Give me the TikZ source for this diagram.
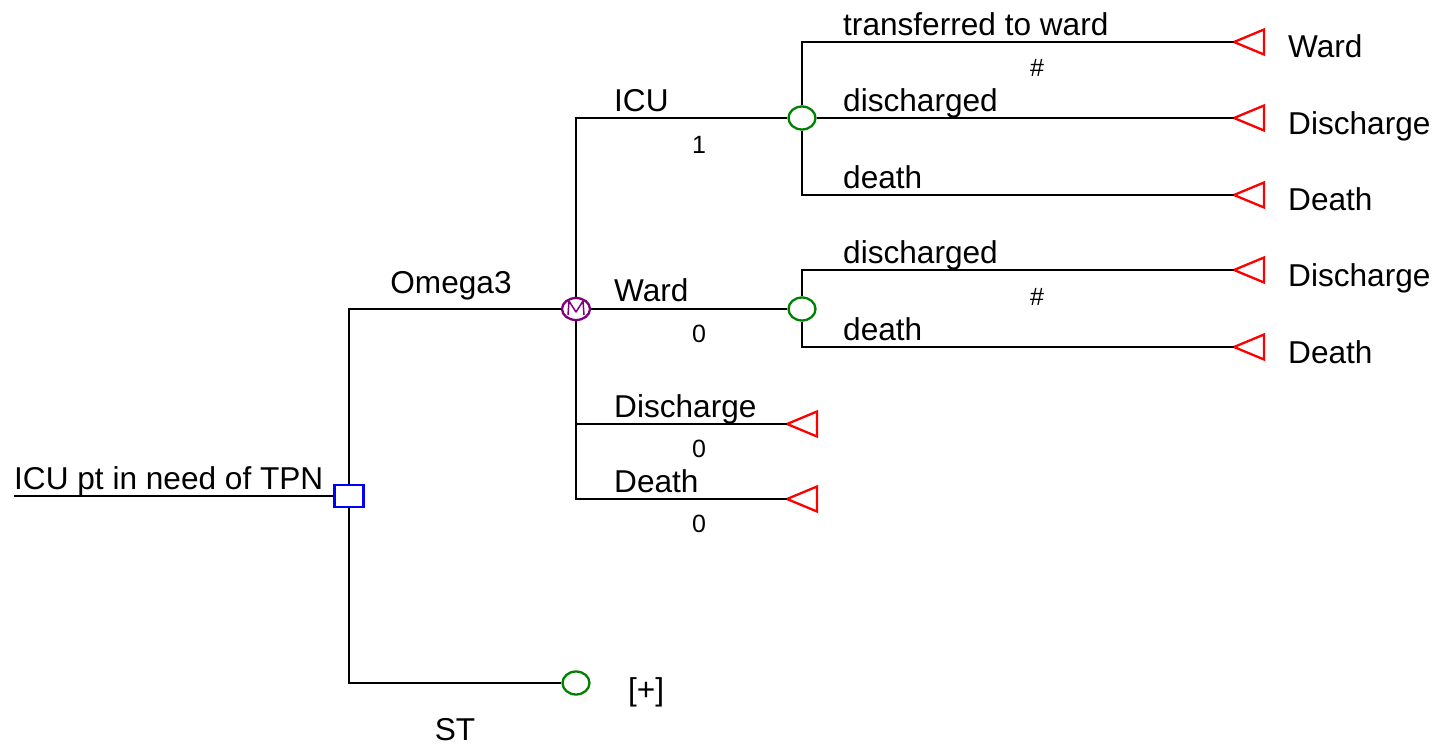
\documentclass[tikz,border=0pt]{standalone}
\usepackage{fontspec}
\setmainfont{Liberation Sans}
\usetikzlibrary{shapes.geometric}
\definecolor{decblue}{RGB}{0,0,255}
\definecolor{mkvpurple}{RGB}{128,0,128}
\definecolor{chngreen}{RGB}{0,128,0}
\definecolor{termred}{RGB}{255,0,0}
\tikzset{
  br/.style={draw=black, line width=2.3bp},
  decnode/.style={rectangle, draw=decblue, fill=white, line width=2.3bp, minimum width=29bp, minimum height=22bp, inner sep=0pt},
  mkvnode/.style={ellipse, draw=mkvpurple, fill=white, line width=2.3bp, minimum width=28bp, minimum height=22bp, inner sep=0pt},
  chnnode/.style={ellipse, draw=chngreen, fill=white, line width=2.3bp, minimum width=27bp, minimum height=23bp, inner sep=0pt},
  termtri/.style={draw=termred, line width=2.3bp, line join=miter},
  big/.style={inner sep=0pt, font=\fontsize{31.6bp}{36bp}\selectfont},
  small/.style={inner sep=0pt, font=\fontsize{25bp}{29bp}\selectfont},
}
\begin{document}
\begin{tikzpicture}[x=1bp,y=-1bp]
\useasboundingbox (0,0) rectangle (1436,744);
% nodes
\coordinate (root) at (14,496);
\node[decnode] (dec) at (349,496) {};
\node[mkvnode] (mk) at (576,309) {};
\draw[mkvpurple, line width=1.5bp, line join=round] (568,315) -- (569,301) -- (576,312) -- (583,301) -- (584,315);
\node[chnnode] (c1) at (802,118) {};
\node[chnnode] (c2) at (802,309) {};
\node[chnnode] (st) at (576,683) {};
% terminal tips
\coordinate (tW1) at (1234,42);
\coordinate (tD1) at (1234,118);
\coordinate (tX1) at (1234,195);
\coordinate (tD2) at (1234,270);
\coordinate (tX2) at (1234,347);
\coordinate (tD3) at (787,424);
\coordinate (tX3) at (787,499);
\foreach \t in {tW1,tD1,tX1,tD2,tX2,tD3,tX3}{
  \draw[termtri] (\t) -- ++(30,-12.5) -- ++(0,25) -- cycle;
}
% connectors
\draw[br] (root) -- (dec.west);
\draw[br] (dec.north) |- (mk.west);
\draw[br] (dec.south) |- (st.west);
\draw[br] (mk.north) |- (c1.west);
\draw[br] (mk.east) -- (c2.west);
\draw[br] (mk.south) |- (tX3);
\draw[br] (mk.south |- tD3) -- (tD3);
\draw[br] (c1.north) |- (tW1);
\draw[br] (c1.east) -- (tD1);
\draw[br] (c1.south) |- (tX1);
\draw[br] (c2.north) |- (tD2);
\draw[br] (c2.south) |- (tX2);
% branch labels
\node[big, anchor=base west] (lroot) at (14,489) {ICU pt in need of TPN};
\node[big, anchor=base] (lom) at (451,293) {Omega3};
\node[big, anchor=base] (lst) at (455,740) {ST};
\node[big, anchor=base west] (lplus) at (628,700) {[+]};
\node[big, anchor=base west] (licu) at (614,111) {ICU};
\node[big, anchor=base west] (lward) at (614,301) {Ward};
\node[big, anchor=base west] (ldis) at (614,417) {Discharge};
\node[big, anchor=base west] (ldeath) at (614,492) {Death};
\node[big, anchor=base west] (ltr) at (843,36) {transferred to ward};
\node[big, anchor=base west] (ldc1) at (843,111) {discharged};
\node[big, anchor=base west] (ldt1) at (843,188) {death};
\node[big, anchor=base west] (ldc2) at (843,263) {discharged};
\node[big, anchor=base west] (ldt2) at (843,340) {death};
% probabilities
\node[small] (p1) at (699,145) {1};
\node[small] (p2) at (699,334) {0};
\node[small] (p3) at (699,449) {0};
\node[small] (p4) at (699,524) {0};
\node[small] (p5) at (1037,68) {\#};
\node[small] (p6) at (1037,297) {\#};
% terminal labels
\node[big, anchor=base west] (e1) at (1288,58) {Ward};
\node[big, anchor=base west] (e2) at (1288,134) {Discharge};
\node[big, anchor=base west] (e3) at (1288,210) {Death};
\node[big, anchor=base west] (e4) at (1288,286) {Discharge};
\node[big, anchor=base west] (e5) at (1288,363) {Death};
\end{tikzpicture}
\end{document}
